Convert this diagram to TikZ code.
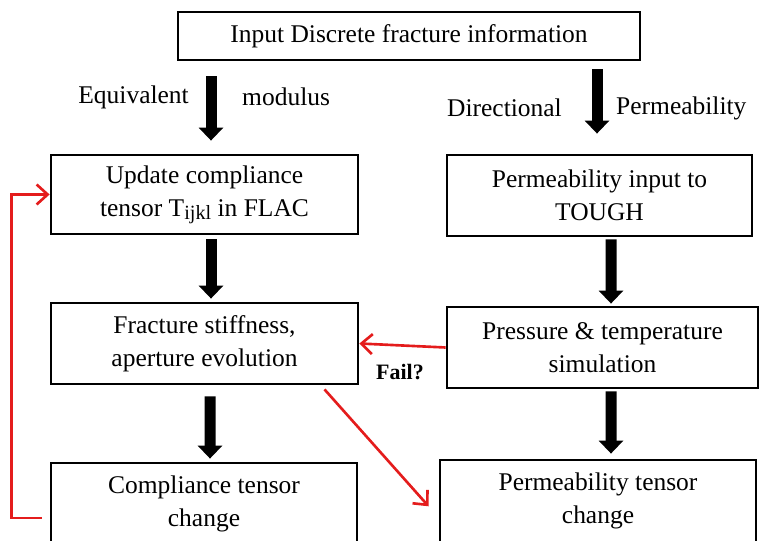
\documentclass[tikz,border=0pt]{standalone}
\usepackage{fontspec}
\setmainfont{Liberation Serif}
\usetikzlibrary{arrows.meta}
\usetikzlibrary{positioning}
\definecolor{failred}{RGB}{228,28,28}

\begin{document}
\begin{tikzpicture}[
  stepbox/.style={draw=black,line width=1.6pt,align=center,inner sep=0pt,
    font=\fontsize{14.5}{18.7}\selectfont},
  bigarrow/.style={line width=2.2mm,-{Triangle[length=2.6mm,width=4.8mm]}},
  redarrow/.style={draw=failred,line width=1.5pt,-{Straight Barb[length=2.2mm,width=4mm]}},
  lbl/.style={font=\fontsize{14.5}{18.7}\selectfont}]
\useasboundingbox (0,0) rectangle (15.28,10.8);

% boxes
\node[stepbox,minimum width=9.24cm,minimum height=0.96cm] (top) at (8.18,10.08) {Input Discrete fracture information};
\node[stepbox,minimum width=6.14cm,minimum height=1.58cm] (upd) at (4.09,6.91)
  {Update compliance\\tensor T\raisebox{-0.25ex}{\fontsize{11.5}{12}\selectfont ijkl} in FLAC};
\node[stepbox,minimum width=6.1cm,minimum height=1.62cm] (perm) at (11.99,6.89) {Permeability input to\\TOUGH};
\node[stepbox,minimum width=6.14cm,minimum height=1.62cm] (frac) at (4.09,3.93) {Fracture stiffness,\\aperture evolution};
\node[stepbox,minimum width=6.22cm,minimum height=1.62cm] (pres) at (12.05,3.85) {Pressure \& temperature\\simulation};
\node[stepbox,minimum width=6.12cm,minimum height=1.64cm] (ctc) at (4.08,0.72) {Compliance tensor\\change};
\node[stepbox,minimum width=6.32cm,minimum height=1.64cm] (ptc) at (11.96,0.78) {Permeability tensor\\change};

% black arrows
\draw[bigarrow,shorten <=0.3cm,shorten >=0.26cm] ([xshift=1.3mm]top.south -| upd.north) -- ([xshift=1.3mm]upd.north);
\draw[bigarrow,shorten <=0.16cm,shorten >=0.4cm] ([xshift=-0.5mm]top.south -| perm.north) -- ([xshift=-0.5mm]perm.north);
\draw[bigarrow,shorten <=0.08cm,shorten >=0.06cm] ([xshift=1.3mm]upd.south) -- ([xshift=1.3mm]frac.north);
\draw[bigarrow,shorten <=0.04cm,shorten >=0.04cm] ([xshift=2.3mm]perm.south) -- ([xshift=1.7mm]pres.north);
\draw[bigarrow,shorten <=0.22cm,shorten >=0.06cm] ([xshift=1.1mm]frac.south) -- ([xshift=1.2mm]ctc.north);
\draw[bigarrow,shorten <=0.04cm,shorten >=0.1cm] ([xshift=1.7mm]pres.south) -- ([xshift=2.6mm]ptc.north);

\node[lbl,anchor=east] (eq) at (3.9,8.86) {Equivalent};
\node[lbl,anchor=west] (mod) at (4.72,8.86) {modulus};
\node[lbl,anchor=east] (dir) at (11.36,8.64) {Directional};
\node[lbl,anchor=west] (pty) at (12.2,8.64) {Permeability};

% red feedback
\draw[redarrow] (pres.west) -- (frac.east);
\node[font=\fontsize{12.5}{14}\selectfont\bfseries] (fail) at (8.0,3.36) {Fail?};
\coordinate (d0) at ([xshift=2.4cm,yshift=-0.08cm]frac.south);
\coordinate (d1) at ([yshift=-0.33cm]ptc.west);
\draw[redarrow,shorten >=0.3cm] (d0) -- (d1);
\coordinate (fb) at ([xshift=-0.16cm,yshift=-0.28cm]ctc.west);
\draw[redarrow] (fb) -- ++(-0.6,0) |- (upd.west);

\end{tikzpicture}
\end{document}
